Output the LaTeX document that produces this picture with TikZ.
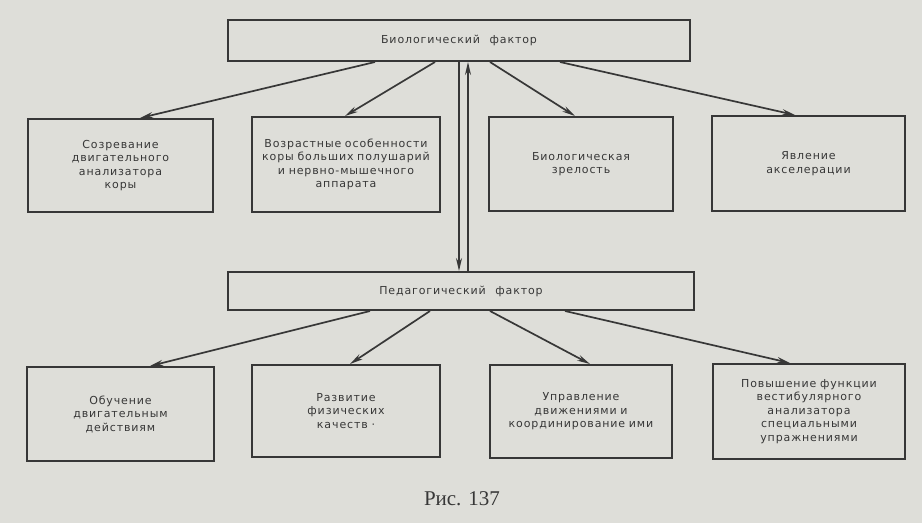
\documentclass[tikz,border=0pt]{standalone}
\usepackage{fontspec}
\setmainfont{Liberation Serif}
\newfontfamily\boxfont[LetterSpace=8, WordSpace=2.2]{DejaVu Sans}
\usepackage{tikz}
\usetikzlibrary{arrows.meta}

\definecolor{paper}{RGB}{222,222,217}
\definecolor{ink}{RGB}{55,55,55}

\begin{document}
\begin{tikzpicture}[x=1pt, y=-1pt, line width=1.8pt, draw=ink,
    factorbox/.style={draw=ink, line width=2pt, fill=paper, inner sep=0pt,
        font=\boxfont\fontsize{11}{13.5}\selectfont, text=ink},
    itembox/.style={factorbox, align=center, text width=#1-8pt},
    link/.style={ink, line width=1.7pt, -{Stealth[length=13pt, width=6pt]}}]
            % Background
            \fill[paper] (0,0) rectangle (922,523);
            \useasboundingbox (0,0) rectangle (922,523);

            % Factors
            \node[factorbox, minimum width=462pt, minimum height=41pt] (bio) at (459,40.5) {Биологический фактор};
            \node[factorbox, minimum width=466pt, minimum height=38pt] (ped) at (461,291) {Педагогический фактор};

            % Biological items
            \node[itembox=185pt, minimum width=185pt, minimum height=93pt] (bioA) at (120.5,165.5)
                {Созревание\\двигательного\\анализатора\\коры};
            \node[itembox=188pt, minimum width=188pt, minimum height=95pt] (bioB) at (346,164.5)
                {Возрастные особенности\\коры больших полушарий\\и нервно-мышечного\\аппарата};
            \node[itembox=184pt, minimum width=184pt, minimum height=94pt] (bioC) at (581,164)
                {Биологическая\\зрелость};
            \node[itembox=193pt, minimum width=193pt, minimum height=95pt] (bioD) at (808.5,163.5)
                {Явление\\акселерации};

            % Pedagogical items
            \node[itembox=187pt, minimum width=187pt, minimum height=94pt] (pedA) at (120.5,414)
                {Обучение\\двигательным\\действиям};
            \node[itembox=188pt, minimum width=188pt, minimum height=92pt] (pedB) at (346,411)
                {Развитие\\физических\\качеств ·};
            \node[itembox=182pt, minimum width=182pt, minimum height=93pt] (pedC) at (581,411.5)
                {Управление\\движениями и\\координирование ими};
            \node[itembox=192pt, minimum width=192pt, minimum height=95pt] (pedD) at (809,411.5)
                {Повышение функции\\вестибулярного\\анализатора\\специальными\\упражнениями};

            % Arrows from the biological factor
            \draw[link] (bio.south -| 375,0) -- (bioA.north -| 140,0);
            \draw[link] (bio.south -| 435,0) -- (bioB.north -| 345,0);
            \draw[link] (bio.south -| 490,0) -- (bioC.north -| 575,0);
            \draw[link] (bio.south -| 560,0) -- (bioD.north -| 795,0);

            % Link between the factors
            \draw[link] (bio.south -| 459,0) -- (ped.north -| 459,0);
            \draw[link] (ped.north -| 468,0) -- (bio.south -| 468,0);

            % Arrows from the pedagogical factor
            \draw[link] (ped.south -| 370,0) -- (pedA.north -| 150,0);
            \draw[link] (ped.south -| 430,0) -- (pedB.north -| 350,0);
            \draw[link] (ped.south -| 490,0) -- (pedC.north -| 590,0);
            \draw[link] (ped.south -| 565,0) -- (pedD.north -| 790,0);

            % Caption
            \node[text=ink, font=\fontsize{21}{24}\selectfont] (caption) at (462,499) {Рис. 137};
        \end{tikzpicture}
\end{document}
